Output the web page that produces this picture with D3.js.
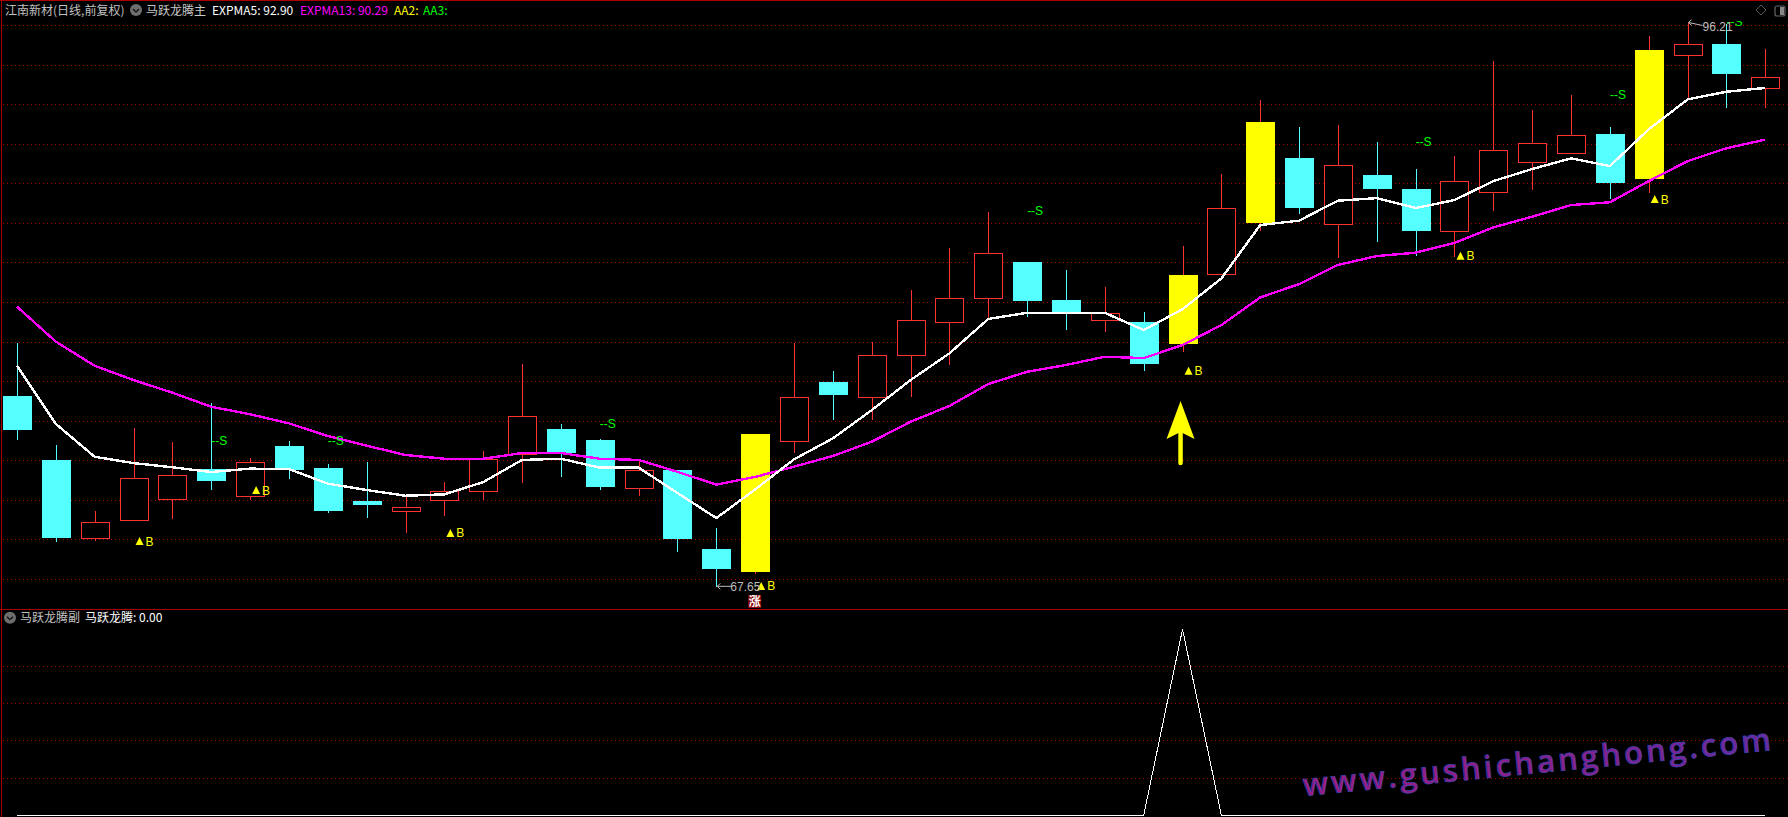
<!DOCTYPE html>
<html><head><meta charset="utf-8">
<script src="https://cdn.jsdelivr.net/npm/d3@7/dist/d3.min.js"></script>
<style>html,body{margin:0;padding:0;background:#000;overflow:hidden}svg{display:block}text{white-space:pre}</style>
</head><body><svg id="c" width="1788" height="817"></svg>
<script>
const opens  =[77.32,74.09,70.11,71.02,72.08,73.63,72.23,74.79,73.68,72.01,71.47,72.03,72.53,74.40,75.65,75.10,72.69,73.58,69.59,68.42,75.06,78.03,77.24,79.36,81.03,82.24,84.10,82.18,81.13,81.06,79.95,83.46,86.07,89.36,86.03,88.50,87.79,85.63,87.60,89.12,89.57,90.57,88.29,94.53,95.12,92.86];
const highs  =[80.00,74.84,71.51,75.70,75.00,76.97,74.17,75.05,73.88,73.99,72.23,72.97,74.54,78.94,75.91,75.15,74.09,73.58,70.65,75.40,80.00,78.59,80.05,82.68,84.81,86.63,84.10,83.69,82.83,81.57,84.91,88.55,92.29,90.92,91.02,90.16,88.80,89.46,94.26,91.78,92.54,90.92,95.52,96.21,96.15,94.87];
const lows   =[75.10,69.94,70.01,71.02,71.12,72.57,72.06,73.13,71.41,71.15,70.41,71.25,72.05,72.92,73.23,72.57,72.28,69.43,67.65,68.32,74.44,76.11,76.11,77.27,78.89,81.23,81.33,80.66,80.56,78.60,79.55,83.46,85.66,86.52,84.30,85.11,84.40,84.35,86.68,87.74,89.57,87.28,87.59,92.29,91.88,91.88];
const closes =[75.60,70.14,70.94,73.16,73.31,73.02,73.97,73.58,71.51,71.81,71.69,72.50,74.14,76.30,74.44,72.72,73.58,70.09,68.58,75.40,77.26,77.37,79.38,81.15,82.26,84.54,82.13,81.55,81.50,78.94,83.44,86.81,91.18,86.83,88.99,87.79,85.66,88.18,89.74,90.10,90.50,88.09,94.82,95.10,93.60,93.44];
const expma5 =[78.85,75.91,74.25,73.93,73.72,73.48,73.65,73.63,72.89,72.57,72.28,72.35,72.97,74.09,74.15,73.70,73.70,72.42,71.15,72.60,74.12,75.18,76.61,78.13,79.48,81.22,81.53,81.53,81.53,80.66,81.71,83.27,85.97,86.19,87.20,87.33,86.83,87.23,88.19,88.80,89.34,88.95,90.81,92.32,92.71,92.90];
const expma13=[81.84,80.07,78.85,78.13,77.49,76.78,76.40,75.94,75.30,74.81,74.34,74.15,74.15,74.44,74.44,74.15,74.09,73.49,72.84,73.23,73.75,74.29,75.01,76.02,76.82,77.93,78.55,78.89,79.31,79.24,79.90,80.91,82.31,82.98,83.95,84.40,84.57,85.06,85.85,86.39,86.98,87.12,88.19,89.20,89.85,90.29];
const signalYellow=[19,30,32,42];
const buyIdx  =[3,6,11,19,30,37,42];
const buyPrice=[69.99,72.57,70.40,67.72,78.60,84.42,87.28];
const sellIdx  =[5,8,15,26,36,41,44];
const sellPrice=[75.06,75.06,75.91,86.69,90.18,92.59,96.27];
const gridPrices=[96.05,94.04,92.07,90.05,88.08,86.05,84.08,82.06,80.04,78.07,76.04,74.07,72.05,70.08,68.05];
const subValues=closes.map((_,i)=>0);
subValues[30]=1;
const subGrid=[0.2,0.4,0.6,0.8];
const titleParts=[["江南新材(日线,前复权)","#c0c0c0",5],["马跃龙腾主","#c8c8c8",146],["EXPMA5: 92.90","#ffffff",212],["EXPMA13: 90.29","#ff00ff",300],["AA2:","#ffff00",394],["AA3:","#00ff00",423]];
const subParts=[["马跃龙腾副","#c0c0c0",20],["马跃龙腾: 0.00","#ffffff",85]];
const maxIdx=43, minIdx=18, maxLabel="96.21", minLabel="67.65";

const cn='"Noto Sans CJK SC","Liberation Sans",sans-serif', lat='"Liberation Sans",sans-serif';
const svg=d3.select("#c");
svg.append("rect").attr("width",1788).attr("height",817).attr("fill","#000");
const idx=d3.range(opens.length);
const x=d3.scaleLinear().domain([0,45]).range([17,1765.3]);
const y=d3.scaleLinear().domain([67.65,96.21]).range([587.3,22.5]);
const ys=d3.scaleLinear().domain([0,1]).range([815.3,629.3]);
const RED="#aa0000", UP="#ff3232", DN="#54ffff";
const defs=svg.append("defs");
defs.append("clipPath").attr("id","mainClip").append("rect").attr("x",0).attr("y",21).attr("width",1788).attr("height",588);
const wm=defs.append("linearGradient").attr("id","wm").attr("x1","0").attr("x2","1").attr("y1","0").attr("y2","0");
wm.append("stop").attr("offset","0").attr("stop-color","#a01a80");
wm.append("stop").attr("offset",".6").attr("stop-color","#8a1f8c");
wm.append("stop").attr("offset","1").attr("stop-color","#6a2aa0");
// frame
const crisp=svg.append("g").attr("shape-rendering","crispEdges");
crisp.append("rect").attr("x",0).attr("y",0).attr("width",1788).attr("height",1).attr("fill",RED);
crisp.append("rect").attr("x",1).attr("y",0).attr("width",1).attr("height",817).attr("fill",RED);
crisp.append("rect").attr("x",0).attr("y",609).attr("width",1788).attr("height",1).attr("fill",RED);
// grid
const hl=(g,v,sc)=>g.selectAll(null).data(v).join("line").attr("x1",3).attr("x2",1788)
 .attr("y1",d=>Math.floor(sc(d))+.5).attr("y2",d=>Math.floor(sc(d))+.5)
 .attr("stroke",RED).attr("stroke-width",1).attr("stroke-dasharray","1 3");
hl(crisp.append("g"),gridPrices,y);
hl(crisp.append("g"),subGrid,ys);
// wicks
const plot=svg.append("g").attr("shape-rendering","crispEdges");
const isDown=i=>closes[i]<opens[i];
const px=i=>Math.round(x(i))+.5;
plot.selectAll(".w").data(idx).join("line").attr("class","w")
 .attr("x1",px).attr("x2",px).attr("y1",i=>y(highs[i])).attr("y2",i=>y(lows[i]))
 .attr("stroke",i=>isDown(i)?DN:UP).attr("stroke-width",1);
// up bodies hollow
plot.selectAll(".u").data(idx.filter(i=>!isDown(i)&&!signalYellow.includes(i))).join("rect")
 .attr("x",i=>px(i)-14).attr("width",28)
 .attr("y",i=>Math.round(y(closes[i]))+.5).attr("height",i=>Math.round(y(opens[i])-y(closes[i])))
 .attr("fill","#000").attr("stroke",UP);
plot.selectAll(".d").data(idx.filter(i=>isDown(i))).join("rect")
 .attr("x",i=>px(i)-14.5).attr("width",29)
 .attr("y",i=>y(opens[i])).attr("height",i=>y(closes[i])-y(opens[i]))
 .attr("fill",DN);
// lines
const line=d3.line().x(i=>x(i));
svg.append("path").attr("fill","none").attr("stroke","#ff00ff").attr("stroke-width",2.4).attr("shape-rendering","crispEdges")
 .attr("d",line.y(i=>y(expma13[i]))(idx));
svg.append("path").attr("fill","none").attr("stroke","#fff").attr("stroke-width",2.4).attr("shape-rendering","crispEdges")
 .attr("d",line.y(i=>y(expma5[i]))(idx));
// yellow bodies over the lines
plot.append("g").selectAll("rect").data(signalYellow).join("rect")
 .attr("x",i=>px(i)-14.5).attr("width",29)
 .attr("y",i=>y(closes[i])).attr("height",i=>y(opens[i])-y(closes[i]))
 .attr("fill","#ffff00");
// buy markers
const buy=svg.append("g").attr("font-family",lat).attr("font-size",12).attr("fill","#ffff00");
buyIdx.forEach((c,k)=>{
 const cx=x(c)+6, cy=y(buyPrice[k]);
 buy.append("path").attr("d",`M${cx-4},${cy+4}L${cx},${cy-4}L${cx+4},${cy+4}Z`);
 buy.append("text").attr("x",cx+6).attr("y",cy+4.5).text("B");
});
// sell markers
const sell=svg.append("g").attr("clip-path","url(#mainClip)").attr("font-family",lat).attr("font-size",12).attr("fill","#00ff00");
sellIdx.forEach((c,k)=>{
 sell.append("text").attr("x",x(c)).attr("y",y(sellPrice[k])+4.5).text("--S");
});
// extreme labels
const ext=svg.append("g").attr("fill","#bdbdbd").attr("stroke","#bdbdbd").attr("font-family",lat).attr("font-size",12);
function extLabel(ix,val,label,dy,tx){
 const a=x(ix), b=y(val)+dy;
 ext.append("path").attr("fill","none").attr("d",`M${a+15},${b+(ix===maxIdx?3:0)}L${a+1},${b}M${a+4},${b-3}L${a+1},${b}L${a+4},${b+3}`);
 ext.append("text").attr("stroke","none").attr("x",a+tx).attr("y",b+(ix===maxIdx?8:5)).text(label);
}
extLabel(maxIdx,96.21,maxLabel,0,15);
extLabel(minIdx,67.65,minLabel,-1,14);
// 涨 badge
const bx=x(19);
svg.append("rect").attr("x",bx-7).attr("y",595).attr("width",13).attr("height",13).attr("fill","#8a0808");
svg.append("text").attr("x",bx-.5).attr("y",606).attr("text-anchor","middle").attr("font-family",cn).attr("font-size",12).attr("font-weight",700).attr("fill","#fff").text("涨");
// arrow annotation
const ax=x(30)-2;
svg.append("path").attr("fill","#ffff00").attr("d",`M${ax},401L${ax+14},439L${ax},432L${ax-14},439Z`);
svg.append("line").attr("x1",ax).attr("x2",ax).attr("y1",430).attr("y2",463).attr("stroke","#ffff00").attr("stroke-width",4.5).attr("stroke-linecap","round");
// sub line
svg.append("path").attr("fill","none").attr("stroke","#fff").attr("stroke-width",1).attr("shape-rendering","crispEdges")
 .attr("d",d3.line().x(i=>x(i)).y(i=>ys(subValues[i]))(idx));
// watermark
svg.append("text").attr("transform","translate(1304,796) rotate(-5.6)")
 .attr("font-family",'"Open Sans",sans-serif').attr("font-size",31)
 .attr("textLength",470).attr("lengthAdjust","spacing")
 .attr("font-weight",600).attr("fill","url(#wm)").attr("stroke","#3b3fa8").attr("stroke-width",.8)
 .text("www.gushichanghong.com");
// titles
const tt=svg.append("g").attr("font-family",cn).attr("font-size",12);
titleParts.forEach(p=>tt.append("text").attr("x",p[2]).attr("y",15).attr("fill",p[1]).text(p[0]));
subParts.forEach(p=>tt.append("text").attr("x",p[2]).attr("y",622).attr("fill",p[1]).text(p[0]));
const icon=(cx,cy)=>{
 svg.append("circle").attr("cx",cx).attr("cy",cy).attr("r",6).attr("fill","#6e6e6e");
 svg.append("path").attr("d",`M${cx-3},${cy-1}L${cx},${cy+2}L${cx+3},${cy-1}`).attr("fill","none").attr("stroke","#111").attr("stroke-width",1.3);
};
icon(136,10); icon(10,617.7);
// top right icons
svg.append("path").attr("d","M1761,5L1766,10L1761,15L1756,10Z").attr("fill","none").attr("stroke","#555");
svg.append("rect").attr("x",1775).attr("y",6).attr("width",10).attr("height",10).attr("rx",2).attr("fill","none").attr("stroke","#666").attr("stroke-width",1.2);
svg.append("rect").attr("x",1780).attr("y",7).attr("width",4).attr("height",8).attr("fill","#888");
</script></body></html>
